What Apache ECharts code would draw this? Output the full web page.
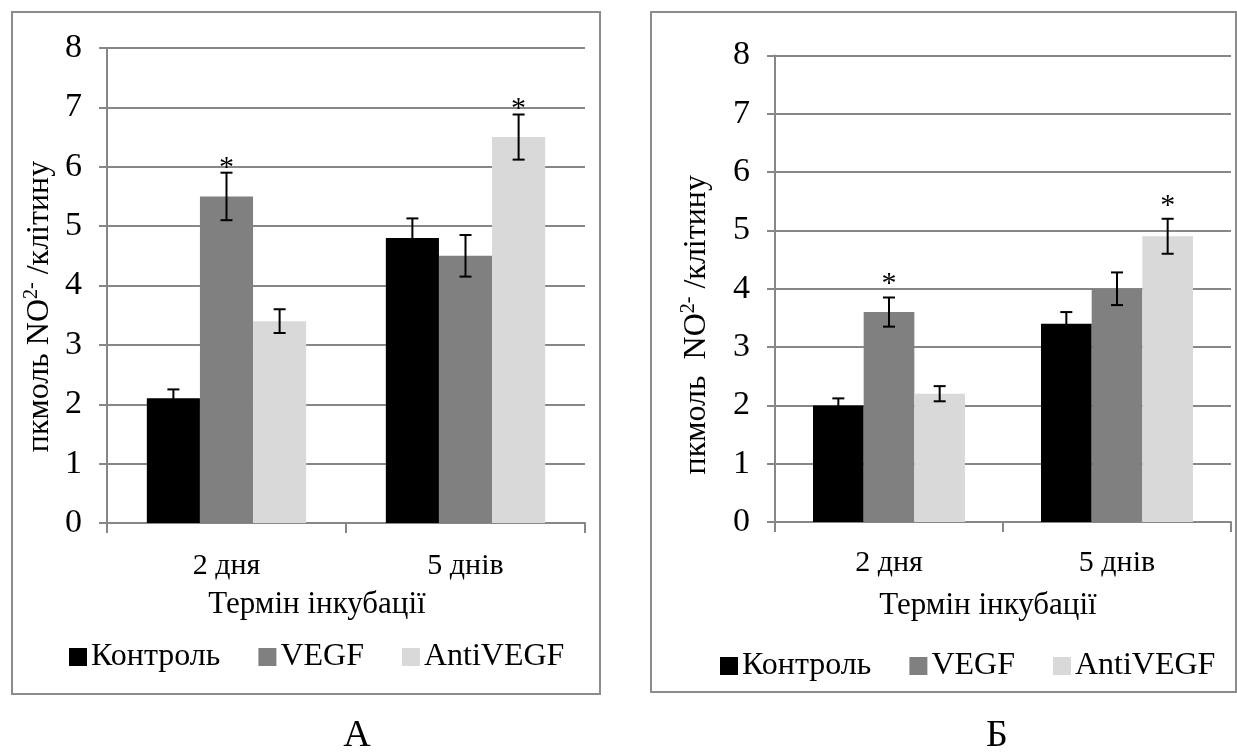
<!DOCTYPE html>
<html>
<head>
<meta charset="utf-8">
<script src="https://cdn.jsdelivr.net/npm/echarts@6/dist/echarts.min.js"></script>
<style>
  html, body { margin: 0; padding: 0; background: #ffffff; }
  #chart { width: 1237px; height: 754px; }
</style>
</head>
<body>
<div id="chart"></div>
<script>
// Incubation terms and groups
const categories = ['2 дня', '5 днів'];
const seriesNames = ['Контроль', 'VEGF', 'AntiVEGF'];
const seriesColors = ['#000000', '#808080', '#d9d9d9'];

// Panel А: mean values and error half-widths
const controlA = [2.1, 4.8];
const controlErrA = [0.15, 0.33];
const vegfA = [5.5, 4.5];
const vegfErrA = [0.4, 0.35];
const antiA = [3.4, 6.5];
const antiErrA = [0.2, 0.38];
const controlStarA = [false, false];
const vegfStarA = [true, false];
const antiStarA = [false, true];

// Panel Б: mean values and error half-widths
const controlB = [2.0, 3.4];
const controlErrB = [0.12, 0.2];
const vegfB = [3.6, 4.0];
const vegfErrB = [0.25, 0.28];
const antiB = [2.2, 4.9];
const antiErrB = [0.13, 0.3];
const controlStarB = [false, false];
const vegfStarB = [true, false];
const antiStarB = [false, true];

const FONT = "'Liberation Serif', 'Times New Roman', serif";
const GRID_GRAY = '#878787';
const CAT_GAP = 1 / 3;

const chart = echarts.init(document.getElementById('chart'), null, { renderer: 'canvas' });

function barSeries(name, values, color, axisIdx) {
  return {
    type: 'bar',
    name: name,
    xAxisIndex: axisIdx,
    yAxisIndex: axisIdx,
    data: values,
    barGap: '0%',
    barCategoryGap: (CAT_GAP * 100).toFixed(2) + '%',
    itemStyle: { color: color },
    emphasis: { disabled: true },
    z: 2
  };
}

// Error bars with caps, plus significance asterisk above the cap
function errorSeries(values, errs, stars, slot, axisIdx, starGap) {
  return {
    type: 'custom',
    xAxisIndex: axisIdx,
    yAxisIndex: axisIdx,
    z: 5,
    silent: true,
    data: values.map((v, i) => [i, v, errs[i], stars[i] ? 1 : 0]),
    renderItem: function (params, api) {
      const cat = api.value(0);
      const mean = api.value(1);
      const err = api.value(2);
      const star = api.value(3);
      const band = api.size([1, 0])[0];
      const barW = band * (1 - CAT_GAP) / 3;
      const base = api.coord([cat, mean]);
      const x = base[0] + (slot - 1) * barW;
      const yTop = api.coord([cat, mean + err])[1];
      const yBot = api.coord([cat, mean - err])[1];
      const cap = 6;
      const stroke = { stroke: '#000000', lineWidth: 2 };
      const children = [
        { type: 'line', shape: { x1: x, y1: yTop, x2: x, y2: yBot }, style: stroke },
        { type: 'line', shape: { x1: x - cap, y1: yTop, x2: x + cap, y2: yTop }, style: stroke },
        { type: 'line', shape: { x1: x - cap, y1: yBot, x2: x + cap, y2: yBot }, style: stroke }
      ];
      if (star) {
        children.push({
          type: 'text',
          style: {
            text: '*', x: x, y: yTop - starGap - 2,
            fill: '#000000', font: '30px ' + FONT,
            align: 'center', verticalAlign: 'middle'
          }
        });
      }
      return { type: 'group', children: children };
    }
  };
}

function yAxisCfg(gridIdx, nameText, nameGap, namePad) {
  return {
    type: 'value',
    gridIndex: gridIdx,
    min: 0, max: 8, interval: 1,
    name: nameText,
    nameLocation: 'middle',
    nameRotate: 90,
    nameGap: nameGap,
    nameTextStyle: {
      padding: namePad,
      rich: {
        t: { fontFamily: FONT, fontSize: 32, color: '#000000', lineHeight: 36 },
        s: { fontFamily: FONT, fontSize: 20, color: '#000000', lineHeight: 20, verticalAlign: 'top' }
      }
    },
    axisLine: { show: true, lineStyle: { color: GRID_GRAY, width: 2 } },
    axisTick: { show: true, length: 8, lineStyle: { color: GRID_GRAY, width: 2 } },
    axisLabel: { color: '#000000', fontFamily: FONT, fontSize: 34, margin: 25 },
    splitLine: { show: true, lineStyle: { color: GRID_GRAY, width: 2 } }
  };
}

function xAxisCfg(gridIdx, labelMargin, nameGap, namePad) {
  return {
    type: 'category',
    gridIndex: gridIdx,
    data: categories,
    name: 'Термін інкубації',
    nameLocation: 'middle',
    nameGap: nameGap,
    nameTextStyle: { color: '#000000', fontFamily: FONT, fontSize: 31, padding: namePad },
    axisLine: { show: true, lineStyle: { color: GRID_GRAY, width: 2 } },
    axisTick: { show: true, length: 10, alignWithLabel: false, lineStyle: { color: GRID_GRAY, width: 2 } },
    axisLabel: { color: '#000000', fontFamily: FONT, fontSize: 30, margin: labelMargin },
    splitLine: { show: false }
  };
}

function legendCfg(left, top) {
  return {
    data: seriesNames,
    left: left, top: top,
    padding: 0,
    orient: 'horizontal',
    icon: 'rect',
    itemWidth: 18, itemHeight: 18,
    itemGap: 38,
    selectedMode: false,
    textStyle: { color: '#000000', fontFamily: FONT, fontSize: 32, padding: [0, 0, 0, -1] }
  };
}

const option = {
  backgroundColor: '#ffffff',
  animation: false,
  color: seriesColors,
  grid: [
    { left: 107, top: 48, right: 652, bottom: 231 },
    { left: 775, top: 55.5, right: 6, bottom: 232 }
  ],
  xAxis: [xAxisCfg(0, 28, 66, [0, 58, 0, 0]), xAxisCfg(1, 26, 68, [0, 30, 0, 0])],
  yAxis: [
    yAxisCfg(0, '{t|пкмоль NO}{s|2-}{t| /клітину}', 49, [0, 42, 0, 0]),
    yAxisCfg(1, '{t|пкмоль  NO}{s|2-}{t| /клітину}', 60, [0, 72, 0, 0])
  ],
  legend: [legendCfg(69, 641), legendCfg(720, 650)],
  graphic: [
    { type: 'rect', silent: true, shape: { x: 12, y: 12, width: 588, height: 682 },
      style: { fill: 'none', stroke: '#8c8c8c', lineWidth: 2 } },
    { type: 'rect', silent: true, shape: { x: 651, y: 12, width: 585, height: 680 },
      style: { fill: 'none', stroke: '#8c8c8c', lineWidth: 2 } },
    { type: 'text', silent: true, x: 357, y: 736,
      style: { text: 'А', font: '38px ' + FONT, fill: '#000000', align: 'center', verticalAlign: 'middle' } },
    { type: 'text', silent: true, x: 997, y: 736,
      style: { text: 'Б', font: '38px ' + FONT, fill: '#000000', align: 'center', verticalAlign: 'middle' } }
  ],
  series: [
    barSeries(seriesNames[0], controlA, seriesColors[0], 0),
    barSeries(seriesNames[1], vegfA, seriesColors[1], 0),
    barSeries(seriesNames[2], antiA, seriesColors[2], 0),
    barSeries(seriesNames[0], controlB, seriesColors[0], 1),
    barSeries(seriesNames[1], vegfB, seriesColors[1], 1),
    barSeries(seriesNames[2], antiB, seriesColors[2], 1),
    errorSeries(controlA, controlErrA, controlStarA, 0, 0, 3),
    errorSeries(vegfA, vegfErrA, vegfStarA, 1, 0, 3),
    errorSeries(antiA, antiErrA, antiStarA, 2, 0, 3),
    errorSeries(controlB, controlErrB, controlStarB, 0, 1, 11),
    errorSeries(vegfB, vegfErrB, vegfStarB, 1, 1, 11),
    errorSeries(antiB, antiErrB, antiStarB, 2, 1, 11)
  ]
};

chart.setOption(option);
</script>
</body>
</html>
